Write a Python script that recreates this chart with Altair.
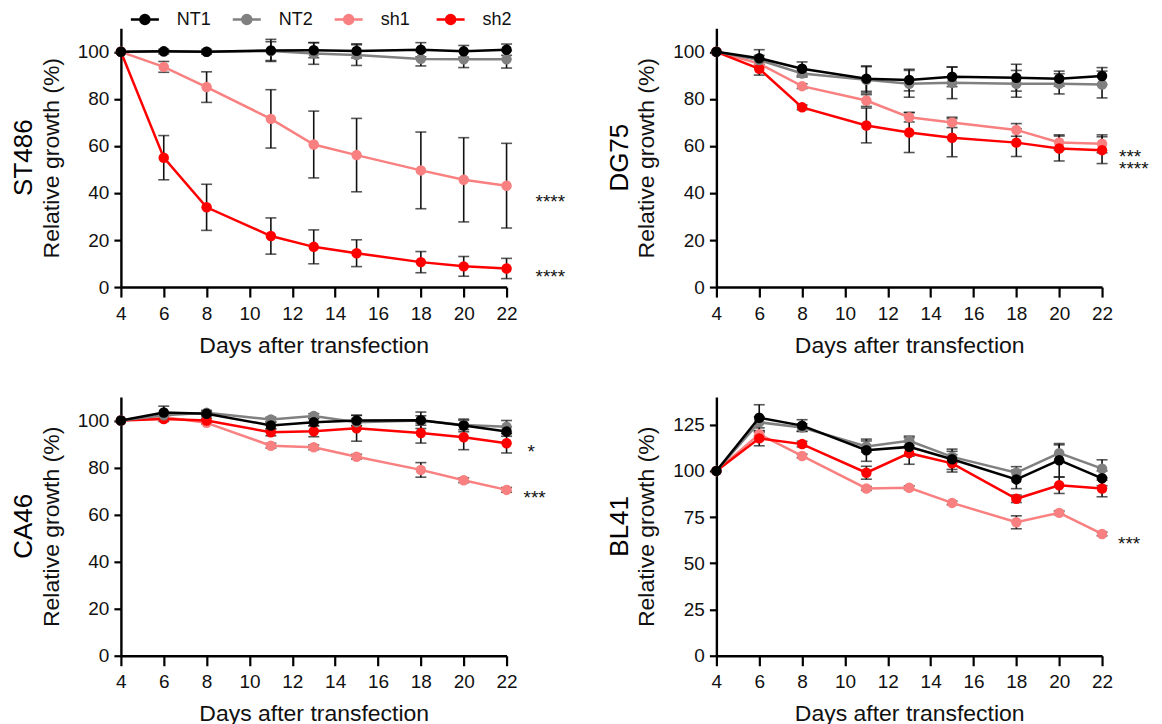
import altair as alt
import pandas as pd

FONT = "Liberation Sans"

DAYS = [4, 6, 8, 11, 13, 15, 18, 20, 22]
SERIES = ["NT1", "NT2", "sh1", "sh2"]
COLORS = ["#000000", "#808080", "#F98080", "#FF0000"]
DRAW_ORDER = ["sh1", "sh2", "NT2", "NT1"]
X_TICKS = [4, 6, 8, 10, 12, 14, 16, 18, 20, 22]

# ---- ST486 ----
ST486_NT1 = [100, 100.2, 100, 100.6, 100.7, 100.4, 100.9, 100.2, 100.9]
ST486_NT1_ERR = [0, 0.5, 0.5, 4.7, 3.2, 3.0, 3.0, 2.5, 2.4]
ST486_NT2 = [100, 100.1, 100, 100.3, 99.3, 98.6, 97.0, 96.8, 96.8]
ST486_NT2_ERR = [0, 1.0, 1.0, 4.0, 4.6, 4.4, 3.0, 3.5, 3.7]
ST486_SH1 = [100, 93.6, 85.0, 71.5, 60.6, 56.1, 49.6, 45.6, 43.1]
ST486_SH1_ERR = [0, 2.3, 6.5, 12.4, 14.2, 15.6, 16.3, 17.9, 18.0]
ST486_SH2 = [100, 55.0, 33.9, 21.7, 17.1, 14.4, 10.6, 8.8, 7.9]
ST486_SH2_ERR = [0, 9.4, 9.8, 7.7, 7.2, 5.7, 4.5, 4.2, 4.3]

# ---- DG75 ----
DG75_NT1 = [100, 97.3, 92.8, 88.6, 88.0, 89.4, 89.0, 88.6, 89.7]
DG75_NT1_ERR = [0, 3.6, 2.9, 5.4, 4.6, 4.2, 5.7, 3.2, 3.6]
DG75_NT2 = [100, 96.5, 90.8, 88.1, 86.4, 86.8, 86.4, 86.4, 86.1]
DG75_NT2_ERR = [0, 2.0, 1.5, 5.6, 5.7, 6.7, 5.7, 4.3, 5.7]
DG75_SH1 = [100, 95.0, 85.4, 79.3, 72.2, 70.0, 66.8, 61.5, 60.9]
DG75_SH1_ERR = [0, 1.5, 1.0, 2.5, 2.0, 2.2, 2.7, 3.2, 3.8]
DG75_SH2 = [100, 92.8, 76.4, 68.7, 65.7, 63.5, 61.4, 58.9, 58.2]
DG75_SH2_ERR = [0, 2.7, 1.0, 7.4, 8.5, 8.1, 5.9, 5.3, 5.7]

# ---- CA46 ----
CA46_NT1 = [100, 103.4, 102.9, 97.9, 99.3, 100.0, 100.1, 97.9, 95.3]
CA46_NT1_ERR = [0, 2.7, 1.0, 1.5, 1.5, 2.2, 3.5, 2.7, 2.0]
CA46_NT2 = [100, 102.2, 103.3, 100.4, 101.9, 99.3, 100.0, 98.1, 97.3]
CA46_NT2_ERR = [0, 1.0, 1.0, 1.0, 1.0, 1.5, 2.0, 2.0, 2.7]
CA46_SH1 = [100, 101.5, 99.0, 89.3, 88.6, 84.6, 79.0, 74.6, 70.5]
CA46_SH1_ERR = [0, 0.5, 0.5, 1.0, 1.0, 1.0, 3.1, 1.0, 1.0]
CA46_SH2 = [100, 100.6, 100.0, 95.0, 95.4, 96.7, 94.7, 92.9, 90.3]
CA46_SH2_ERR = [0, 1.0, 1.0, 1.5, 2.3, 5.5, 4.3, 5.3, 4.1]

# ---- BL41 ----
BL41_NT1 = [100, 128.8, 124.5, 111.2, 113.0, 106.3, 95.4, 105.8, 96.0]
BL41_NT1_ERR = [0, 7.0, 3.2, 6.0, 5.0, 5.5, 5.0, 9.0, 4.0]
BL41_NT2 = [100, 126.3, 123.5, 113.2, 116.3, 107.6, 99.0, 109.6, 101.2]
BL41_NT2_ERR = [0, 3.0, 2.0, 3.0, 2.5, 3.0, 3.3, 4.5, 4.8]
BL41_SH1 = [100, 119.9, 108.1, 90.5, 90.9, 82.7, 72.2, 77.3, 65.9]
BL41_SH1_ERR = [0, 1.0, 1.0, 1.0, 1.0, 1.0, 3.5, 1.0, 1.0]
BL41_SH2 = [100, 117.6, 114.5, 99.0, 109.6, 104.1, 84.9, 92.2, 90.5]
BL41_SH2_ERR = [0, 4.0, 1.5, 3.5, 6.0, 4.7, 2.0, 4.4, 4.5]

# significance annotations: (label, y value of glyph centre of first line, pixel gap after day 22)
ST486_ANN = [("****", 38.2, 29), ("****", 6.6, 29)]
DG75_ANN = [("***\n****", 57.2, 17)]
CA46_ANN = [("*", 88.6, 21), ("***", 69.3, 17)]
BL41_ANN = [("***", 63.1, 16)]

W, H = 386, 259


def make_df(vals, errs):
    rows = []
    for s, v, e in zip(SERIES, vals, errs):
        for d, vv, ee in zip(DAYS, v, e):
            rows.append({"day": d, "value": vv, "err": ee, "series": s,
                         "lo": vv - ee, "hi": vv + ee})
    return pd.DataFrame(rows)


def panel(name, vals, errs, ann, ymax, yticks):
    df = make_df(vals, errs)
    xs = alt.Scale(domain=[4, 22], nice=False, zero=False)
    ys = alt.Scale(domain=[0, ymax], nice=False)
    xax = alt.Axis(values=X_TICKS, title="Days after transfection", labelFlush=False,
                   tickSize=10, labelPadding=7, titlePadding=11)
    yax = alt.Axis(values=yticks, title="Relative growth (%)", labelFlush=False,
                   tickSize=7, labelPadding=5, titlePadding=14)

    def X(f="day"):
        return alt.X(f"{f}:Q", scale=xs, axis=xax)

    def Y(f):
        return alt.Y(f"{f}:Q", scale=ys, axis=yax)

    color = alt.Color("series:N", scale=alt.Scale(domain=SERIES, range=COLORS),
                      legend=alt.Legend(title=None))
    base = alt.Chart(df)
    eb = base.transform_filter("datum.err > 0")
    layers = [
        eb.mark_rule(color="#111111", strokeWidth=1.6).encode(x=X(), y=Y("lo"), y2="hi:Q"),
        eb.mark_tick(color="#111111", thickness=1.6, size=11, orient="horizontal").encode(x=X(), y=Y("hi")),
        eb.mark_tick(color="#111111", thickness=1.6, size=11, orient="horizontal").encode(x=X(), y=Y("lo")),
    ]
    for s in DRAW_ORDER:
        sub = base.transform_filter(alt.datum.series == s)
        layers.append(sub.mark_line(strokeWidth=2.5).encode(x=X(), y=Y("value"), color=color))
        layers.append(sub.mark_point(filled=True, size=110, opacity=1).encode(x=X(), y=Y("value"), color=color))
    for lab, yv, gap in ann:
        adf = pd.DataFrame({"day": [22], "value": [yv], "label": [lab]})
        layers.append(alt.Chart(adf).mark_text(align="left", baseline="alphabetic", dx=gap, dy=11,
                                               fontSize=19, font=FONT, color="#111111",
                                               lineBreak="\n", lineHeight=12)
                      .encode(x=X(), y=Y("value"), text="label:N"))
    return alt.layer(*layers).properties(
        width=W, height=H,
        title=alt.TitleParams(text=name, orient="left", fontSize=26, font=FONT,
                              fontWeight="normal", anchor="middle", offset=3, color="black"))


p1 = panel("ST486", [ST486_NT1, ST486_NT2, ST486_SH1, ST486_SH2],
           [ST486_NT1_ERR, ST486_NT2_ERR, ST486_SH1_ERR, ST486_SH2_ERR], ST486_ANN, 110, [0, 20, 40, 60, 80, 100])
p2 = panel("DG75", [DG75_NT1, DG75_NT2, DG75_SH1, DG75_SH2],
           [DG75_NT1_ERR, DG75_NT2_ERR, DG75_SH1_ERR, DG75_SH2_ERR], DG75_ANN, 110, [0, 20, 40, 60, 80, 100])
p3 = panel("CA46", [CA46_NT1, CA46_NT2, CA46_SH1, CA46_SH2],
           [CA46_NT1_ERR, CA46_NT2_ERR, CA46_SH1_ERR, CA46_SH2_ERR], CA46_ANN, 110, [0, 20, 40, 60, 80, 100])
p4 = panel("BL41", [BL41_NT1, BL41_NT2, BL41_SH1, BL41_SH2],
           [BL41_NT1_ERR, BL41_NT2_ERR, BL41_SH1_ERR, BL41_SH2_ERR], BL41_ANN, 140, [0, 25, 50, 75, 100, 125])

chart = alt.concat(p1, p2, p3, p4, columns=2,
                   spacing=alt.RowColnumber(row=110, column=210), bounds="flush").properties(
    padding={"left": 3, "top": 2, "right": 5, "bottom": 0}
).configure_view(stroke=None).configure_axis(
    grid=False, domainColor="black", domainWidth=2.4, tickColor="black", tickWidth=2.2,
    labelFont=FONT, labelFontSize=19, labelColor="#111111",
    titleFont=FONT, titleFontSize=23, titleFontWeight="normal", titleColor="#111111",
).configure_legend(
    orient="none", legendX=15, legendY=-18, direction="horizontal", padding=0,
    symbolType="M-1.87,0L1.87,0M0.6,0A0.6,0.6,0,1,1,-0.6,0A0.6,0.6,0,1,1,0.6,0Z",
    symbolSize=225, symbolStrokeWidth=2.5, labelFont=FONT, labelFontSize=18, labelColor="#111111",
    labelOffset=23, columnPadding=15, gridAlign="all",
)

chart.save("out.html", embed_options={"renderer": "svg", "actions": False})
